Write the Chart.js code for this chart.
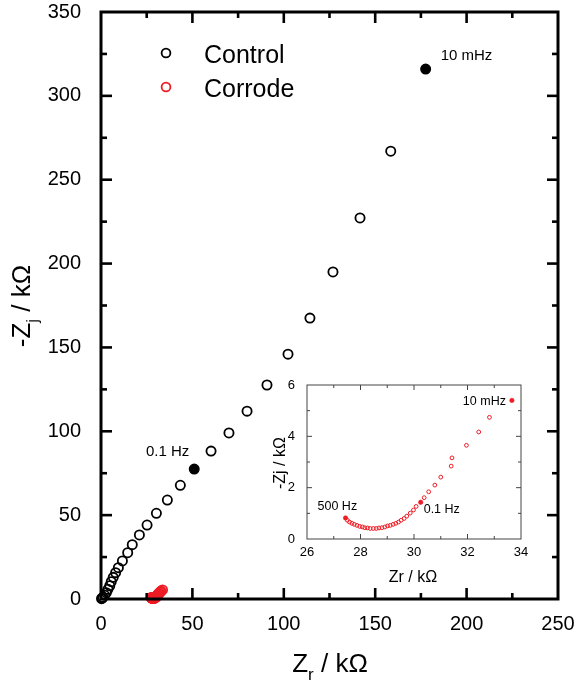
<!DOCTYPE html>
<html><head><meta charset="utf-8">
<script src="https://cdn.jsdelivr.net/npm/chart.js@4.4.1/dist/chart.umd.min.js"></script>
<style>
html,body{margin:0;padding:0;background:#fff;}
#wrap{position:relative;width:579px;height:682px;overflow:hidden;}
#main{position:absolute;left:0;top:0;}
#inset{position:absolute;left:255px;top:375px;}
</style></head><body>
<div id="wrap"><canvas id="main" width="579" height="682"></canvas><canvas id="inset" width="280" height="215"></canvas></div>
<script>
// ---- data (kΩ) ----
const controlZr = [0.3,0.6,1.1,2.0,2.9,3.8,4.8,5.6,6.7,8.0,9.5,11.7,14.6,17.1,21.0,25.2,30.3,36.3,43.4,60.2,70.0,79.9,90.8,102.3,114.3,126.9,141.7,158.5];
const controlZj = [0.2,0.5,1.0,2.2,3.8,5.8,7.9,10.3,12.9,15.7,18.7,22.7,27.6,32.4,38.2,44.1,51.1,59.0,67.8,88.2,99.0,112.0,127.6,146.0,167.5,195.0,227.2,267.0];
const controlMarkZr = [51.0,177.6];        // 0.1 Hz, 10 mHz
const controlMarkZj = [77.5,316.0];
const controlMarkLabels = ['0.1 Hz','10 mHz'];

const corrodeZr = [27.51,27.59,27.68,27.77,27.87,27.97,28.07,28.16,28.26,28.36,28.48,28.59,28.69,28.80,28.91,29.01,29.11,29.22,29.32,29.42,29.52,29.63,29.73,29.86,29.98,30.08,30.38,30.55,30.78,31.00,31.39,31.42,31.96,32.42,32.82];
const corrodeZj = [0.73,0.66,0.61,0.57,0.53,0.49,0.47,0.44,0.43,0.41,0.41,0.41,0.43,0.44,0.47,0.51,0.53,0.57,0.61,0.66,0.73,0.80,0.89,1.01,1.13,1.27,1.61,1.84,2.10,2.41,2.84,3.16,3.65,4.17,4.74];
const corrodeMarkZr = [27.44,30.25,33.66]; // 500 Hz, 0.1 Hz, 10 mHz
const corrodeMarkZj = [0.82,1.43,5.40];
const corrodeMarkLabels = ['500 Hz','0.1 Hz','10 mHz'];

const mainXTicks = [0,50,100,150,200,250];
const mainYTicks = [0,50,100,150,200,250,300,350];
const insetXTicks = [26,28,30,32,34];
const insetYTicks = [0,2,4,6];

const RED = '#ee1c25';
const FONT = '"Liberation Sans", Arial, sans-serif';
const pts = (xs, ys) => xs.map((x, i) => ({x, y: ys[i]}));
const fitX = h => s => { s.height = h; s.paddingLeft = 0; s.paddingRight = 0; s.paddingTop = 0; s.paddingBottom = 0; };
const fitY = w => s => { s.width = w; s.paddingLeft = 0; s.paddingRight = 0; s.paddingTop = 0; s.paddingBottom = 0; };

function framePlugin(o) {
  return {
    id: 'frame',
    afterDatasetsDraw(chart) {
      const {ctx, chartArea: a, scales: {x, y}} = chart;
      ctx.save();
      ctx.strokeStyle = o.color;
      ctx.lineCap = 'butt';
      ctx.lineWidth = o.tw;
      const line = (x1, y1, x2, y2) => { ctx.beginPath(); ctx.moveTo(x1, y1); ctx.lineTo(x2, y2); ctx.stroke(); };
      const nx = Math.round((x.max - x.min) / o.xMinor);
      for (let i = 1; i < nx; i++) {
        const L = i % o.xEvery === 0 ? o.major : o.minor;
        const px = x.getPixelForValue(x.min + i * o.xMinor);
        line(px, a.bottom, px, a.bottom - L);
        line(px, a.top, px, a.top + L);
      }
      const ny = Math.round((y.max - y.min) / o.yMinor);
      for (let i = 1; i < ny; i++) {
        const L = i % o.yEvery === 0 ? o.major : o.minor;
        const py = y.getPixelForValue(y.min + i * o.yMinor);
        line(a.left, py, a.left + L, py);
        line(a.right, py, a.right - L, py);
      }
      ctx.lineWidth = o.lw;
      ctx.lineJoin = 'miter';
      ctx.strokeRect(a.left, a.top, a.right - a.left, a.bottom - a.top);
      ctx.restore();
    }
  };
}

function drawParts(ctx, parts, x, y, align) {
  let w = 0;
  parts.forEach(p => { ctx.font = p.size + 'px ' + FONT; p.w = ctx.measureText(p.t).width; w += p.w; });
  let cx = align === 'center' ? x - w / 2 : x;
  ctx.textAlign = 'left';
  ctx.textBaseline = 'alphabetic';
  parts.forEach(p => { ctx.font = p.size + 'px ' + FONT; ctx.fillText(p.t, cx, y + (p.dy || 0)); cx += p.w; });
}

// ---------------- main chart ----------------
const mainText = {
  id: 'mainText',
  afterDraw(chart) {
    const {ctx, scales: {x, y}} = chart;
    ctx.save();
    ctx.fillStyle = '#000';
    // x title
    drawParts(ctx, [{t: 'Z', size: 26}, {t: 'r', size: 17, dy: 8}, {t: ' / kΩ', size: 26}], 330, 672, 'center');
    // y title
    ctx.translate(30, 306);
    ctx.rotate(-Math.PI / 2);
    drawParts(ctx, [{t: '-Z', size: 26}, {t: 'j', size: 17, dy: 8}, {t: ' / kΩ', size: 26}], 0, 0, 'center');
    ctx.restore();
    // legend
    ctx.save();
    ctx.lineWidth = 1.8;
    [['Control', '#000', 53], ['Corrode', RED, 87]].forEach(([t, c, yy]) => {
      ctx.strokeStyle = c;
      ctx.beginPath(); ctx.arc(166, yy, 4.4, 0, Math.PI * 2); ctx.stroke();
      ctx.fillStyle = '#000';
      ctx.font = '25px ' + FONT;
      ctx.textBaseline = 'alphabetic';
      ctx.fillText(t, 204, yy + 10);
    });
    // point annotations
    ctx.font = '15px ' + FONT;
    ctx.fillStyle = '#000';
    const p0x = x.getPixelForValue(controlMarkZr[0]), p0y = y.getPixelForValue(controlMarkZj[0]);
    ctx.textAlign = 'right';
    ctx.fillText(controlMarkLabels[0], p0x - 5, p0y - 13);
    const p1x = x.getPixelForValue(controlMarkZr[1]), p1y = y.getPixelForValue(controlMarkZj[1]);
    ctx.textAlign = 'left';
    ctx.fillText(controlMarkLabels[1], p1x + 15, p1y - 9);
    ctx.restore();
  }
};

new Chart(document.getElementById('main'), {
  type: 'scatter',
  data: {
    datasets: [
      {label: 'Corrode', data: pts(corrodeZr.concat(corrodeMarkZr), corrodeZj.concat(corrodeMarkZj)),
       pointRadius: 4.6, pointBorderWidth: 1.8, borderColor: RED, backgroundColor: 'rgba(0,0,0,0)', clip: false},
      {label: 'Control', data: pts(controlZr, controlZj),
       pointRadius: 4.6, pointBorderWidth: 1.8, borderColor: '#000', backgroundColor: 'rgba(0,0,0,0)', clip: false},
      {label: 'Control marked', data: pts(controlMarkZr, controlMarkZj),
       pointRadius: 4.8, pointBorderWidth: 1.4, borderColor: '#000', backgroundColor: '#000', clip: false}
    ]
  },
  options: {
    responsive: false, animation: false, events: [],
    layout: {padding: {top: 12, right: 21, left: 0, bottom: 0}},
    plugins: {legend: {display: false}, tooltip: {enabled: false}},
    scales: {
      x: {type: 'linear', min: 0, max: 250,
          afterBuildTicks: s => { s.ticks = mainXTicks.map(v => ({value: v})); },
          ticks: {color: '#000', font: {family: FONT, size: 20}, padding: 5, maxRotation: 0},
          grid: {display: false}, border: {display: false},
          afterFit: fitX(83)},
      y: {type: 'linear', min: 0, max: 350,
          afterBuildTicks: s => { s.ticks = mainYTicks.map(v => ({value: v})); },
          ticks: {color: '#000', font: {family: FONT, size: 20}, padding: 12},
          grid: {display: false}, border: {display: false},
          afterFit: fitY(101)}
    }
  },
  plugins: [framePlugin({color: '#000', lw: 3, tw: 2.6, major: 11, minor: 6, xMinor: 25, xEvery: 2, yMinor: 25, yEvery: 2}), mainText]
});

// ---------------- inset chart ----------------
const insetText = {
  id: 'insetText',
  afterDraw(chart) {
    const {ctx, scales: {x, y}} = chart;
    ctx.save();
    ctx.fillStyle = '#000';
    drawParts(ctx, [{t: 'Zr / kΩ', size: 16}], 158, 207, 'center');
    ctx.save();
    ctx.translate(30, 88);
    ctx.rotate(-Math.PI / 2);
    drawParts(ctx, [{t: '-Zj / kΩ', size: 16}], 0, 0, 'center');
    ctx.restore();
    ctx.font = '12.5px ' + FONT;
    ctx.textBaseline = 'alphabetic';
    const P = i => [x.getPixelForValue(corrodeMarkZr[i]), y.getPixelForValue(corrodeMarkZj[i])];
    let [ax, ay] = P(0);
    ctx.textAlign = 'left'; ctx.fillText(corrodeMarkLabels[0], ax - 28, ay - 8);
    [ax, ay] = P(1);
    ctx.fillText(corrodeMarkLabels[1], ax + 3, ay + 11);
    [ax, ay] = P(2);
    ctx.textAlign = 'right'; ctx.fillText(corrodeMarkLabels[2], ax - 6, ay + 5);
    ctx.restore();
  }
};

new Chart(document.getElementById('inset'), {
  type: 'scatter',
  data: {
    datasets: [
      {label: 'Corrode', data: pts(corrodeZr, corrodeZj),
       pointRadius: 1.9, pointBorderWidth: 1, borderColor: RED, backgroundColor: 'rgba(0,0,0,0)'},
      {label: 'Corrode marked', data: pts(corrodeMarkZr, corrodeMarkZj),
       pointRadius: 2.2, pointBorderWidth: 0.6, borderColor: RED, backgroundColor: RED}
    ]
  },
  options: {
    responsive: false, animation: false, events: [],
    layout: {padding: {top: 10, right: 14, left: 0, bottom: 0}},
    plugins: {legend: {display: false}, tooltip: {enabled: false}},
    scales: {
      x: {type: 'linear', min: 26, max: 34,
          afterBuildTicks: s => { s.ticks = insetXTicks.map(v => ({value: v})); },
          ticks: {color: '#000', font: {family: FONT, size: 13}, padding: -2, maxRotation: 0},
          grid: {display: false}, border: {display: false},
          afterFit: fitX(51)},
      y: {type: 'linear', min: 0, max: 6,
          afterBuildTicks: s => { s.ticks = insetYTicks.map(v => ({value: v})); },
          ticks: {color: '#000', font: {family: FONT, size: 13}, padding: 4},
          grid: {display: false}, border: {display: false},
          afterFit: fitY(52)}
    }
  },
  plugins: [framePlugin({color: '#444', lw: 1, tw: 1, major: 5, minor: 3, xMinor: 1, xEvery: 2, yMinor: 1, yEvery: 2}), insetText]
});
</script>
</body></html>
